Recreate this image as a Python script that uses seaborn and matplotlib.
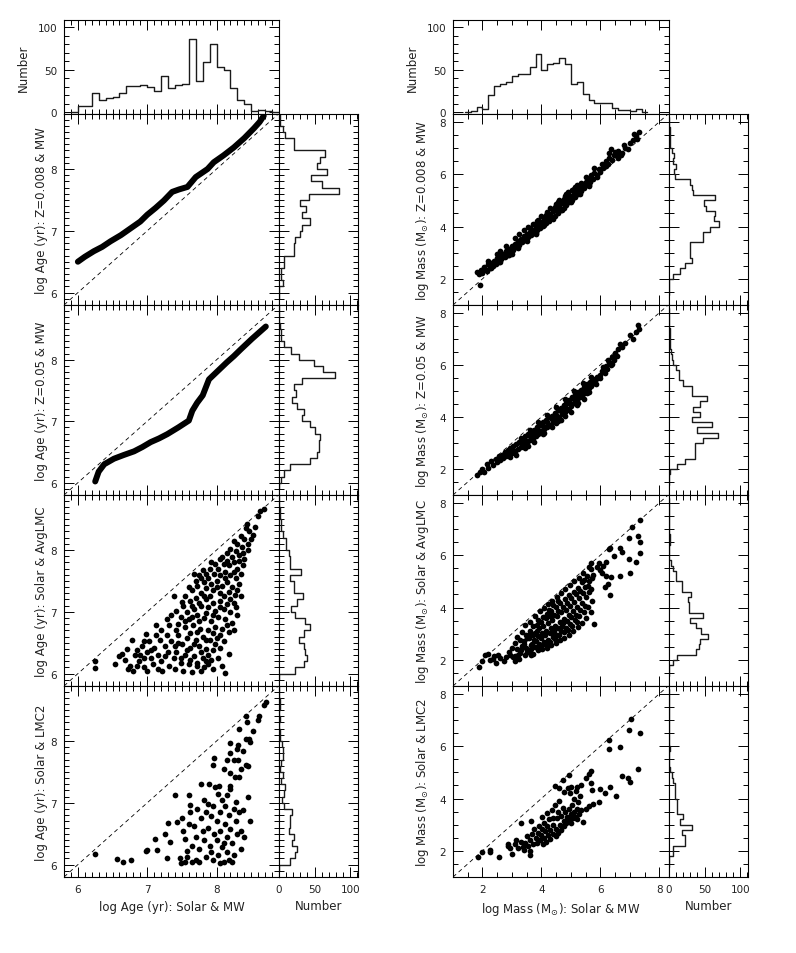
import numpy as np
import pandas as pd
import matplotlib
matplotlib.use('Agg')
import matplotlib.pyplot as plt
import seaborn as sns
from matplotlib.ticker import MultipleLocator

# ---------------- data ----------------
row_names = ['Z=0.008 & MW', 'Z=0.05 & MW', 'Solar & AvgLMC', 'Solar & LMC2']

# top histograms (counts per bin)
age_top_start, age_bin = 6.0, 0.1
age_top_counts = [7, 7, 23, 15, 17, 18, 23, 31, 31, 32, 30, 25, 42, 29, 32, 33,
                  86, 37, 59, 80, 53, 50, 28, 14, 10, 1, 3, 1]
mass_top_start, mass_bin = 1.6, 0.2
mass_top_counts = [1, 6, 4, 20, 31, 33, 35, 43, 45, 45, 53, 68, 50, 57, 58, 64,
                   57, 33, 36, 21, 14, 11, 11, 11, 5, 3, 3, 1, 4]

# side histograms, age (bins of 0.1 from 6.0 up to 8.8)
age_side_counts = [
    [0, 5, 3, 3, 7, 7, 21, 21, 23, 30, 32, 44, 32, 38, 29, 42, 85, 60, 45, 67,
     53, 57, 65, 21, 21, 9, 5, 2, 1],
    [3, 7, 15, 44, 53, 56, 56, 57, 51, 44, 32, 35, 25, 18, 24, 21, 32, 78, 62,
     49, 28, 17, 7, 3, 3, 1, 0, 0, 0],
    [23, 35, 39, 37, 35, 28, 35, 43, 36, 23, 17, 25, 34, 21, 21, 15, 31, 16, 15,
     14, 10, 10, 6, 3, 3, 1, 1, 0, 0],
    [16, 23, 25, 18, 21, 14, 16, 16, 18, 7, 4, 7, 9, 3, 5, 1, 3, 6, 5, 4, 2, 1,
     0, 2, 0, 2, 1, 0, 0],
]
# side histograms, mass (bins of 0.2 from 1.6 up to 7.8)
mass_side_counts = [
    [0, 0, 6, 16, 23, 32, 30, 30, 30, 48, 48, 58, 70, 63, 64, 52, 49, 64, 34,
     32, 30, 8, 7, 10, 5, 7, 4, 2, 1, 1, 1, 0],
    [0, 1, 11, 23, 37, 37, 37, 48, 69, 39, 60, 32, 43, 34, 43, 53, 33, 33, 20,
     14, 14, 10, 6, 4, 3, 1, 1, 1, 1, 0, 0, 0],
    [0, 6, 11, 38, 42, 43, 55, 45, 38, 30, 48, 28, 28, 26, 31, 18, 18, 10, 10,
     6, 3, 0, 0, 0, 1, 1, 0, 0, 0, 0, 0, 0],
    [0, 6, 6, 22, 22, 18, 32, 15, 20, 11, 11, 11, 9, 9, 9, 6, 4, 1, 0, 0, 0, 1,
     0, 0, 0, 0, 0, 0, 0, 0, 0, 0],
]

# age relations that form continuous tracks (rows 1 and 2)
age_z008_x = [6.00, 6.10, 6.23, 6.35, 6.47, 6.62, 6.76, 6.90, 7.00, 7.12, 7.24,
              7.36, 7.46, 7.58, 7.70, 7.87, 7.96, 8.10, 8.25, 8.40, 8.54, 8.62, 8.68]
age_z008_y = [6.50, 6.58, 6.67, 6.74, 6.83, 6.93, 7.04, 7.15, 7.26, 7.37, 7.49,
              7.63, 7.67, 7.71, 7.87, 8.00, 8.11, 8.22, 8.35, 8.50, 8.66, 8.76, 8.86]
age_z05_x = [6.25, 6.30, 6.38, 6.52, 6.66, 6.81, 6.93, 7.05, 7.17, 7.29, 7.45,
             7.60, 7.65, 7.72, 7.80, 7.89, 8.02, 8.15, 8.25, 8.35, 8.51, 8.60, 8.71]
age_z05_y = [6.02, 6.18, 6.30, 6.39, 6.45, 6.51, 6.58, 6.66, 6.72, 6.79, 6.90,
             7.01, 7.17, 7.30, 7.42, 7.68, 7.82, 7.96, 8.06, 8.17, 8.34, 8.43, 8.54]

age_avglmc = [
    (8.68, 8.67), (8.63, 8.63), (8.60, 8.55), (8.44, 8.42), (8.42, 8.35), (8.47, 8.30),
    (8.52, 8.25), (8.35, 8.22), (8.40, 8.18), (8.30, 8.10), (8.25, 8.14), (8.37, 8.05),
    (8.45, 8.10), (8.20, 8.02), (8.28, 7.98), (8.33, 7.92), (8.15, 7.95), (8.22, 7.88),
    (8.40, 7.85), (8.05, 7.85), (8.10, 7.78), (8.18, 7.75), (8.25, 7.80), (8.30, 7.70),
    (8.12, 7.65), (8.02, 7.70), (7.92, 7.80), (7.96, 7.62), (8.20, 7.60), (8.28, 7.55),
    (8.35, 7.62), (7.88, 7.55), (7.82, 7.48), (8.00, 7.50), (8.08, 7.42), (8.15, 7.48),
    (8.22, 7.40), (8.32, 7.45), (7.85, 7.38), (7.95, 7.35), (8.05, 7.30), (8.18, 7.32),
    (8.26, 7.28), (7.78, 7.30), (7.72, 7.42), (7.75, 7.60), (7.80, 7.68), (7.55, 7.25),
    (7.62, 7.18), (7.70, 7.22), (7.85, 7.20), (7.95, 7.15), (8.05, 7.18), (8.15, 7.12),
    (8.25, 7.15), (8.20, 7.00), (8.10, 7.05), (7.98, 7.02), (7.88, 7.08), (7.78, 7.10),
    (7.68, 7.05), (7.58, 7.00), (7.52, 7.10), (7.48, 6.92), (7.60, 6.88), (7.72, 6.95),
    (7.82, 6.90), (7.92, 6.85), (8.02, 6.92), (8.12, 6.88), (8.22, 6.82), (8.30, 6.95),
    (7.45, 6.80), (7.55, 6.75), (7.66, 6.78), (7.76, 6.72), (7.88, 6.70), (7.98, 6.75),
    (8.08, 6.72), (8.18, 6.68), (7.45, 6.62), (7.58, 6.58), (7.70, 6.55), (7.80, 6.60),
    (7.90, 6.55), (8.00, 6.58), (8.10, 6.52), (8.18, 6.32), (7.50, 6.48), (7.62, 6.42),
    (7.75, 6.45), (7.85, 6.40), (7.95, 6.38), (8.05, 6.42), (7.42, 6.35), (7.55, 6.30),
    (7.68, 6.28), (7.80, 6.25), (7.92, 6.22), (8.02, 6.25), (7.48, 6.18), (7.60, 6.15),
    (7.72, 6.12), (7.82, 6.10), (7.95, 6.08), (7.52, 6.05), (7.65, 6.02), (7.78, 6.05),
    (7.40, 6.08), (8.12, 6.01), (7.88, 6.15), (6.25, 6.21), (6.25, 6.09), (6.54, 6.16),
    (6.60, 6.28), (6.64, 6.32), (6.71, 6.40), (6.68, 6.22), (6.75, 6.12), (6.80, 6.05),
    (6.82, 6.30), (6.88, 6.20), (6.92, 6.45), (6.95, 6.10), (6.98, 6.64), (7.00, 6.35),
    (7.02, 6.52), (7.05, 6.25), (7.08, 6.15), (7.12, 6.78), (7.10, 6.42), (7.15, 6.30),
    (7.18, 6.55), (7.20, 6.20), (7.22, 6.05), (7.25, 6.45), (7.28, 6.62), (7.30, 6.35),
    (7.32, 6.12), (7.35, 6.52), (7.38, 6.25), (7.38, 7.26), (7.50, 7.16), (7.28, 6.88),
    (7.35, 6.95), (7.20, 6.70), (6.78, 6.55), (6.85, 6.38), (7.42, 6.70), (6.72, 6.08),
    (6.90, 6.30),
]
age_avglmc_more = [
    (7.65, 7.35), (7.70, 7.50), (7.78, 7.55), (7.85, 7.62), (7.90, 7.70), (7.98, 7.78),
    (8.08, 7.88), (8.15, 7.82), (8.12, 7.55), (8.25, 7.65), (8.32, 7.82), (8.38, 7.95),
    (8.05, 7.60), (7.92, 7.45), (7.82, 7.25), (7.75, 7.15), (7.65, 7.10), (7.90, 7.25),
    (8.00, 7.40), (8.10, 7.25), (8.20, 7.20), (8.30, 7.35), (8.35, 7.25), (8.28, 7.08),
    (8.05, 7.08), (7.95, 6.95), (7.85, 6.98), (7.75, 6.85), (7.65, 6.92), (7.55, 6.85),
    (7.62, 6.65), (7.72, 6.68), (7.85, 6.55), (7.95, 6.65), (8.05, 6.62), (8.15, 6.78),
    (8.25, 6.70), (7.68, 6.48), (7.78, 6.35), (7.88, 6.30), (7.98, 6.48), (7.58, 6.38),
    (7.48, 6.25), (7.62, 6.22), (7.72, 6.18), (7.85, 6.20), (8.08, 6.12), (7.40, 6.45),
    (7.32, 6.78), (7.42, 7.02), (7.60, 7.40), (7.68, 7.62), (8.45, 8.00), (8.50, 8.18),
    (8.55, 8.38), (8.38, 7.75), (7.12, 6.62), (7.05, 6.38), (6.95, 6.52), (6.85, 6.12),
    (7.15, 6.08), (7.25, 6.28), (6.95, 6.25), (7.45, 6.50), (7.00, 6.05),
]
age_lmc2 = [
    (8.71, 8.63), (8.68, 8.58), (8.61, 8.40), (8.60, 8.34), (8.43, 8.40), (8.44, 8.31),
    (8.33, 8.19), (8.52, 8.16), (8.47, 8.04), (8.42, 8.03), (8.48, 7.98), (8.20, 7.97),
    (8.31, 7.93), (8.29, 7.87), (8.20, 7.81), (8.38, 7.84), (8.15, 7.70), (8.25, 7.69),
    (8.31, 7.69), (8.43, 7.62), (8.45, 7.59), (8.32, 7.42), (8.27, 7.41), (8.20, 7.49),
    (7.96, 7.73), (7.95, 7.62), (7.89, 7.30), (8.03, 7.27), (8.20, 7.27), (8.20, 7.22),
    (8.45, 7.10), (8.48, 6.70), (7.77, 7.31), (8.10, 7.55), (8.35, 7.55), (7.40, 7.12),
    (7.60, 7.12), (7.62, 6.96), (7.60, 6.66), (7.43, 6.69), (7.50, 6.76), (7.30, 6.68),
    (7.25, 6.50), (7.33, 6.37), (7.11, 6.42), (6.98, 6.22), (7.00, 6.24), (7.14, 6.24),
    (7.29, 6.10), (7.47, 6.10), (7.48, 6.03), (6.25, 6.18), (6.57, 6.09), (6.65, 6.05),
    (6.77, 6.08), (7.55, 6.05), (7.58, 6.12), (7.65, 6.05), (7.70, 6.08), (7.75, 6.05),
    (7.72, 6.90), (7.78, 6.75), (7.80, 6.55), (7.82, 6.40), (7.85, 6.85), (7.88, 6.60),
    (7.90, 6.30), (7.92, 6.20), (7.95, 6.95), (7.97, 6.50), (8.00, 6.70), (8.00, 6.40),
    (8.02, 6.15), (8.05, 6.85), (8.05, 6.55), (8.08, 6.28), (8.10, 6.05), (8.12, 6.95),
    (8.12, 6.65), (8.15, 6.45), (8.15, 6.20), (8.18, 6.80), (8.18, 6.08), (8.20, 6.58),
    (8.22, 6.35), (8.25, 6.90), (8.25, 6.15), (8.28, 6.70), (8.30, 6.50), (8.32, 6.85),
    (8.35, 6.25), (8.38, 6.88), (8.40, 6.45), (7.75, 6.25), (7.70, 6.45), (7.68, 6.62),
    (7.65, 6.30), (7.85, 6.12), (7.95, 6.08), (8.05, 6.02), (7.62, 6.85), (7.88, 6.98),
    (8.08, 7.05), (8.28, 7.02), (7.92, 6.78), (8.10, 6.35), (7.55, 6.42), (7.52, 6.55),
    (7.58, 6.22), (8.22, 6.05), (8.35, 6.55), (8.02, 7.15), (8.15, 7.12), (7.82, 7.05),
    (7.98, 7.25),
]

mass_z008 = [
    (1.90, 1.75), (1.82, 2.25), (1.88, 2.20), (1.95, 2.32), (2.05, 2.45), (2.00, 2.22),
    (2.10, 2.38), (2.15, 2.30), (2.20, 2.55), (2.25, 2.42), (2.30, 2.60), (2.35, 2.50),
    (2.40, 2.70), (2.45, 2.58), (2.50, 2.78), (2.55, 2.65), (2.60, 2.90), (2.62, 2.75),
    (2.70, 2.95), (2.75, 2.85), (2.80, 3.05), (2.85, 2.92), (2.90, 3.15), (2.95, 3.02),
    (3.00, 3.25), (3.05, 3.12), (3.10, 3.35), (3.15, 3.20), (3.20, 3.45), (3.25, 3.30),
    (3.30, 3.52), (3.35, 3.40), (3.40, 3.62), (3.45, 3.50), (3.50, 3.72), (3.55, 3.58),
    (3.60, 3.80), (3.65, 3.68), (3.70, 3.88), (3.75, 3.75), (3.80, 3.98), (3.85, 3.85),
    (3.90, 4.08), (3.95, 3.95), (4.00, 4.18), (4.05, 4.02), (4.10, 4.28), (4.15, 4.12),
    (4.20, 4.38), (4.25, 4.22), (4.30, 4.48), (4.35, 4.32), (4.40, 4.58), (4.45, 4.42),
    (4.50, 4.68), (4.55, 4.52), (4.60, 4.78), (4.65, 4.62), (4.70, 4.88), (4.75, 4.72),
    (4.80, 4.98), (4.85, 4.82), (4.90, 5.08), (4.95, 4.92), (5.00, 5.18), (5.05, 5.02),
    (5.10, 5.28), (5.15, 5.12), (5.20, 5.40), (5.25, 5.25), (5.30, 5.52), (5.35, 5.36),
    (5.40, 5.62), (5.45, 5.48), (5.50, 5.72), (5.55, 5.58), (5.60, 5.82), (5.65, 5.70),
    (5.70, 5.95), (5.75, 5.80), (5.80, 6.05), (5.88, 5.95), (5.95, 6.20), (6.00, 6.10),
    (6.05, 6.40), (6.10, 6.25), (6.20, 6.50), (6.25, 6.38), (6.30, 6.62), (6.40, 6.55),
    (6.45, 6.75), (6.55, 6.68), (6.60, 6.90), (6.75, 6.80), (6.85, 7.00), (6.95, 6.95),
    (7.00, 7.20), (7.10, 7.30), (7.20, 7.45), (7.30, 7.62), (7.25, 7.35), (3.60, 3.95),
    (3.90, 4.25), (4.20, 4.55), (4.50, 4.85), (4.80, 5.15), (5.10, 5.45), (3.80, 3.70),
    (4.40, 4.30), (5.00, 4.95), (2.60, 3.05), (3.00, 2.95), (5.60, 5.60), (6.30, 6.80),
    (6.60, 6.60), (6.80, 7.10),
]
mass_z008_more = [
    (2.20, 2.70), (2.50, 2.95), (2.80, 3.25), (3.10, 3.55), (3.40, 3.85), (3.70, 4.10),
    (4.00, 4.40), (4.30, 4.70), (4.60, 5.00), (4.90, 5.30), (5.20, 5.60), (5.50, 5.90),
    (5.80, 6.25), (2.30, 2.40), (2.60, 2.65), (2.90, 2.90), (3.20, 3.18), (3.50, 3.45),
    (3.80, 3.75), (4.10, 4.05), (4.40, 4.35), (4.70, 4.62), (5.00, 4.98), (5.30, 5.25),
    (5.60, 5.55), (5.90, 5.90), (6.20, 6.30), (6.50, 6.85), (6.70, 6.75), (6.35, 6.95),
    (7.15, 7.55), (4.55, 4.95), (4.85, 5.25), (5.15, 5.50), (3.25, 3.70), (3.55, 3.98),
    (3.85, 4.22), (4.15, 4.45), (4.45, 4.75), (4.75, 5.05), (5.05, 5.38), (5.35, 5.68),
]
mass_z05 = [
    (1.80, 1.76), (1.90, 1.90), (2.00, 2.00), (2.05, 1.90), (2.15, 2.18), (2.20, 2.05),
    (2.30, 2.30), (2.35, 2.15), (2.45, 2.40), (2.50, 2.25), (2.55, 2.50), (2.60, 2.35),
    (2.65, 2.55), (2.70, 2.42), (2.75, 2.65), (2.80, 2.48), (2.85, 2.72), (2.90, 2.55),
    (2.95, 2.80), (3.00, 2.60), (3.05, 2.88), (3.10, 2.68), (3.15, 2.95), (3.20, 2.75),
    (3.25, 3.05), (3.30, 2.85), (3.35, 3.15), (3.40, 2.92), (3.45, 3.25), (3.50, 3.00),
    (3.55, 3.35), (3.60, 3.10), (3.65, 3.42), (3.70, 3.18), (3.75, 3.50), (3.80, 3.28),
    (3.85, 3.60), (3.90, 3.35), (3.95, 3.70), (4.00, 3.45), (4.05, 3.80), (4.10, 3.55),
    (4.15, 3.88), (4.20, 3.62), (4.25, 3.98), (4.30, 3.70), (4.35, 4.05), (4.40, 3.80),
    (4.45, 4.15), (4.50, 3.90), (4.55, 4.25), (4.60, 4.00), (4.65, 4.35), (4.70, 4.10),
    (4.75, 4.45), (4.80, 4.20), (4.85, 4.55), (4.90, 4.30), (4.95, 4.65), (5.00, 4.42),
    (5.05, 4.75), (5.10, 4.55), (5.15, 4.85), (5.20, 4.65), (5.25, 4.95), (5.30, 4.75),
    (5.35, 5.05), (5.40, 4.88), (5.45, 5.15), (5.50, 5.00), (5.55, 5.25), (5.60, 5.10),
    (5.65, 5.35), (5.70, 5.20), (5.75, 5.45), (5.80, 5.32), (5.90, 5.55), (6.00, 5.50),
    (6.05, 5.75), (6.15, 5.70), (6.20, 5.95), (6.23, 5.83), (6.30, 6.10), (6.35, 6.00),
    (6.40, 6.30), (6.45, 6.20), (6.50, 6.45), (6.55, 6.35), (6.60, 6.60), (6.68, 6.79),
    (6.75, 6.70), (6.85, 6.85), (7.02, 7.13), (7.10, 7.00), (7.27, 7.52), (7.30, 7.36),
    (7.20, 7.25), (3.00, 2.75), (3.30, 3.00), (3.60, 3.25), (3.90, 3.50), (4.20, 3.80),
    (4.50, 4.08), (4.80, 4.38), (5.10, 4.70), (5.40, 5.00), (5.70, 5.30), (2.70, 2.52),
    (3.45, 3.10), (3.75, 3.38), (4.05, 3.65), (4.35, 3.92), (4.65, 4.22), (4.95, 4.52),
    (5.25, 4.85), (5.55, 5.15), (5.85, 5.45), (6.00, 5.62), (4.50, 3.75), (5.60, 4.95),
    (5.20, 4.45),
]
mass_z05_more = [
    (3.15, 2.55), (3.45, 2.80), (3.75, 3.05), (4.05, 3.35), (4.35, 3.60), (4.65, 3.90),
    (4.95, 4.25), (5.25, 4.55), (5.55, 4.90), (5.85, 5.25), (3.30, 3.20), (3.60, 3.50),
    (3.90, 3.80), (4.20, 4.08), (4.50, 4.40), (4.80, 4.70), (5.10, 5.00), (5.40, 5.30),
    (5.70, 5.55), (6.10, 5.90), (6.25, 6.20), (6.40, 6.05), (2.80, 2.62), (2.95, 2.45),
    (3.40, 3.10), (3.55, 2.88), (4.10, 3.40), (4.55, 3.85), (4.80, 4.05), (5.00, 4.20),
    (5.45, 4.70),
]
mass_avglmc = [
    (7.36, 7.36), (7.07, 7.06), (7.28, 6.74), (6.96, 6.64), (7.33, 6.49), (7.33, 6.10),
    (7.22, 5.74), (6.96, 5.85), (7.00, 5.33), (6.73, 6.13), (6.68, 6.29), (6.34, 6.29),
    (6.45, 5.97), (6.28, 6.25), (5.80, 3.38), (6.32, 4.46), (6.68, 5.21), (6.00, 5.44),
    (6.20, 5.75), (6.10, 5.60), (5.95, 5.70), (5.90, 5.55), (6.05, 5.30), (6.20, 5.20),
    (6.35, 5.15), (5.70, 5.70), (5.60, 5.55), (5.75, 5.25), (6.15, 4.80), (6.25, 4.90),
    (1.88, 1.72), (1.99, 1.94), (2.10, 2.19), (2.27, 2.00), (2.40, 2.15), (2.52, 2.20),
    (2.61, 2.06), (2.72, 1.94), (3.12, 1.97), (2.20, 2.22), (2.35, 2.05), (2.45, 1.88),
    (2.80, 2.10), (2.90, 2.30), (3.00, 2.45), (3.05, 2.10), (2.95, 2.18), (3.20, 2.20),
    (3.25, 2.05), (3.12, 2.15), (3.18, 2.42), (3.10, 2.66), (3.16, 2.88), (3.28, 2.25),
    (3.33, 2.52), (3.27, 2.76), (3.35, 3.08), (3.31, 2.36), (3.44, 2.18), (3.48, 2.47),
    (3.42, 2.71), (3.47, 2.96), (3.45, 3.32), (3.58, 2.31), (3.63, 2.56), (3.57, 2.84),
    (3.62, 3.12), (3.60, 3.46), (3.66, 2.41), (3.73, 2.24), (3.78, 2.49), (3.74, 2.76),
    (3.79, 3.02), (3.72, 3.29), (3.77, 3.68), (3.88, 2.36), (3.93, 2.61), (3.87, 2.91),
    (3.92, 3.21), (3.89, 3.52), (3.94, 3.86), (4.03, 2.41), (4.08, 2.69), (4.02, 3.01),
    (4.07, 3.31), (4.04, 3.62), (4.09, 3.97), (4.01, 2.55), (4.18, 2.46), (4.23, 2.77),
    (4.17, 3.11), (4.22, 3.41), (4.19, 3.76), (4.24, 4.12), (4.33, 2.56), (4.38, 2.86),
    (4.32, 3.21), (4.37, 3.52), (4.34, 3.86), (4.36, 4.26), (4.39, 3.02), (4.48, 2.66),
    (4.53, 2.96), (4.47, 3.31), (4.52, 3.66), (4.49, 4.01), (4.54, 4.41), (4.63, 2.76),
    (4.68, 3.11), (4.62, 3.46), (4.67, 3.81), (4.64, 4.16), (4.66, 4.56), (4.69, 3.29),
    (4.78, 2.82), (4.83, 3.21), (4.77, 3.56), (4.82, 3.91), (4.79, 4.31), (4.81, 4.71),
    (4.93, 2.96), (4.98, 3.36), (4.92, 3.71), (4.97, 4.06), (4.94, 4.46), (4.96, 4.86),
    (5.08, 3.11), (5.13, 3.51), (5.07, 3.86), (5.12, 4.21), (5.09, 4.61), (5.11, 5.01),
    (5.23, 3.26), (5.28, 3.66), (5.22, 4.01), (5.27, 4.36), (5.24, 4.76), (5.26, 5.11),
    (5.38, 3.41), (5.43, 3.81), (5.37, 4.16), (5.42, 4.56), (5.39, 4.96), (5.41, 5.31),
    (5.53, 3.61), (5.58, 4.01), (5.52, 4.41), (5.57, 4.81), (5.54, 5.21), (5.68, 3.81),
    (5.73, 4.26), (5.67, 4.71), (5.72, 5.11), (5.69, 5.46),
]
mass_avglmc_more = [
    (3.40, 2.60), (3.52, 2.85), (3.55, 2.38), (3.68, 2.62), (3.70, 2.95), (3.82, 2.72),
    (3.84, 3.12), (3.98, 2.82), (4.00, 3.45), (4.12, 2.95), (4.14, 3.58), (4.28, 3.02),
    (4.28, 3.68), (4.42, 3.12), (4.42, 3.72), (4.58, 3.20), (4.58, 3.88), (4.72, 3.40),
    (4.72, 4.02), (4.88, 3.50), (4.88, 4.18), (5.02, 3.62), (5.02, 4.35), (5.18, 3.70),
    (5.18, 4.50), (5.32, 3.90), (5.32, 4.65), (5.48, 4.05), (5.48, 4.80), (3.95, 2.48),
    (4.15, 2.62), (4.30, 2.70), (4.45, 2.80), (4.60, 2.95), (4.75, 3.05), (4.90, 3.15),
    (5.05, 3.30), (5.20, 3.45), (3.50, 2.30), (3.65, 2.20), (4.40, 4.10), (4.55, 4.25),
    (4.25, 3.90), (3.85, 3.35), (3.60, 3.00), (5.62, 4.60), (5.45, 5.05), (5.60, 5.00),
]
mass_lmc2 = [
    (1.84, 1.78), (1.97, 1.96), (2.25, 2.03), (2.25, 1.94), (2.56, 1.78), (2.86, 2.19),
    (2.88, 2.25), (3.00, 1.87), (3.12, 2.26), (3.31, 3.06), (3.37, 2.13), (3.60, 2.00),
    (3.60, 1.85), (3.63, 3.15), (4.02, 3.28), (4.47, 4.46), (4.72, 4.69), (4.93, 4.88),
    (5.00, 4.44), (5.21, 4.44), (5.68, 4.59), (5.72, 4.34), (5.95, 3.85), (6.28, 6.23),
    (6.28, 5.91), (6.68, 5.97), (6.73, 4.85), (6.93, 4.79), (7.00, 4.63), (7.05, 7.04),
    (6.96, 6.62), (7.33, 6.49), (7.27, 5.14), (6.34, 4.44), (6.53, 4.10), (5.70, 5.05),
    (5.60, 4.95), (5.50, 4.80), (5.35, 4.50), (5.60, 3.70), (5.75, 3.80), (6.00, 4.35),
    (6.15, 4.20), (5.40, 3.10), (5.50, 3.60), (3.45, 2.30), (3.50, 2.55), (3.55, 2.20),
    (3.62, 2.40), (3.68, 2.65), (3.70, 2.25), (3.75, 2.85), (3.80, 2.50), (3.85, 2.30),
    (3.88, 2.70), (3.92, 2.95), (3.95, 2.40), (4.00, 2.60), (4.02, 2.85), (4.05, 2.25),
    (4.08, 3.05), (4.10, 2.50), (4.12, 2.75), (4.15, 2.35), (4.18, 2.95), (4.22, 2.60),
    (4.25, 3.20), (4.28, 2.45), (4.30, 2.80), (4.35, 3.55), (4.38, 2.65), (4.40, 3.00),
    (4.45, 3.75), (4.48, 2.55), (4.50, 2.85), (4.52, 3.25), (4.55, 2.70), (4.58, 3.50),
    (4.62, 3.00), (4.65, 2.80), (4.68, 3.35), (4.72, 3.65), (4.75, 2.95), (4.78, 3.15),
    (4.80, 3.50), (4.85, 3.05), (4.88, 3.30), (4.90, 4.40), (4.92, 3.60), (4.95, 3.20),
    (4.98, 4.20), (5.00, 3.40), (5.02, 3.05), (5.05, 3.75), (5.08, 3.25), (5.10, 4.00),
    (5.12, 3.50), (5.15, 3.30), (5.18, 4.30), (5.20, 3.60), (5.22, 3.20), (5.25, 3.85),
    (5.28, 3.40), (5.30, 4.10), (5.35, 3.55), (3.30, 2.35), (3.20, 2.10), (2.95, 2.10),
    (3.15, 2.40), (3.40, 2.05), (4.20, 3.45), (4.40, 3.25), (4.60, 4.40), (4.75, 4.25),
    (4.60, 3.90),
]

age_scatter = [None, None, age_avglmc + age_avglmc_more, age_lmc2]
age_tracks = [(age_z008_x, age_z008_y), (age_z05_x, age_z05_y), None, None]
mass_scatter = [mass_z008 + mass_z008_more, mass_z05 + mass_z05_more,
                mass_avglmc + mass_avglmc_more, mass_lmc2]

# ---------------- figure ----------------
sns.set_theme(style='white')
plt.rcParams['font.family'] = ['DejaVu Sans']
plt.rcParams['mathtext.fontset'] = 'dejavusans'
plt.rcParams['axes.edgecolor'] = 'black'

W, H = 796, 954
fig = plt.figure(figsize=(W / 100, H / 100), dpi=100)
fs = 8.5      # axis titles
tfs = 7.5     # tick numbers


def px_axes(x0, y0, x1, y1):
    return fig.add_axes([x0 / W, 1 - y1 / H, (x1 - x0) / W, (y1 - y0) / H])


def style(ax, xmaj, xmin, ymaj, ymin):
    ax.xaxis.set_major_locator(MultipleLocator(xmaj))
    ax.xaxis.set_minor_locator(MultipleLocator(xmin))
    ax.yaxis.set_major_locator(MultipleLocator(ymaj))
    ax.yaxis.set_minor_locator(MultipleLocator(ymin))
    ax.tick_params(which='both', direction='in', top=True, right=True,
                   bottom=True, left=True, labelsize=tfs, pad=5,
                   color='black', width=0.7, labelcolor='#222222')
    ax.tick_params(which='major', length=7)
    ax.tick_params(which='minor', length=3.5)
    for s in ax.spines.values():
        s.set_linewidth(0.8)
        s.set_color('black')
    ax.set_xlabel('')
    ax.set_ylabel('')


def hist(ax, start, width, counts, horizontal=False):
    counts = [0] + list(counts) + [0]
    edges = [round(start - width + width * k, 3) for k in range(len(counts) + 1)]
    df = pd.DataFrame({'v': [e + width / 2 for e in edges[:-1]], 'n': counts})
    if horizontal:
        sns.histplot(data=df, y='v', weights='n', bins=edges, element='step',
                     fill=False, color='#1a1a1a', linewidth=1.0, ax=ax)
    else:
        sns.histplot(data=df, x='v', weights='n', bins=edges, element='step',
                     fill=False, color='#1a1a1a', linewidth=1.0, ax=ax)


rows = [115, 306, 496, 687, 878]
age_lim = (5.8, 8.9)
mass_lim = (1.0, 8.33)
num_lim = (0, 111)
top_lim = (-2, 108.6)
label_kw = dict(fontsize=fs, color='#222222')

# top histograms
ax = px_axes(64, 20.7, 279, 115)
hist(ax, age_top_start, age_bin, age_top_counts)
style(ax, 1, 0.1, 50, 10)
ax.set_xlim(age_lim)
ax.set_ylim(top_lim)
ax.tick_params(labelbottom=False)
ax.set_ylabel('Number', **label_kw)
ax.yaxis.set_label_coords(-0.16, 0.5)

ax = px_axes(453, 20.7, 669, 115)
hist(ax, mass_top_start, mass_bin, mass_top_counts)
style(ax, 2, 0.5, 50, 10)
ax.set_xlim(mass_lim)
ax.set_ylim(top_lim)
ax.tick_params(labelbottom=False)
ax.set_ylabel('Number', **label_kw)
ax.yaxis.set_label_coords(-0.16, 0.5)

for i in range(4):
    y0, y1 = rows[i], rows[i + 1]
    last = i == 3

    # ---- age column ----
    ax = px_axes(64, y0, 279, y1)
    ax.axline((0, 0), slope=1, color='black', lw=0.6, ls=(0, (5, 4)), zorder=1)
    if age_tracks[i] is not None:
        tx, ty = age_tracks[i]
        sns.lineplot(x=tx, y=ty, sort=False, color='black', lw=4.3,
                     solid_capstyle='round', ax=ax, zorder=3)
    else:
        pts = np.array(age_scatter[i])
        sns.scatterplot(x=pts[:, 0], y=pts[:, 1], color='black', s=17,
                        linewidth=0, ax=ax, zorder=3)
    style(ax, 1, 0.1, 1, 0.1)
    ax.set_xlim(age_lim)
    ax.set_ylim(age_lim[0], 8.89)
    ax.set_ylabel('log Age (yr): ' + row_names[i], **label_kw)
    ax.yaxis.set_label_coords(-0.075, 0.5)
    if last:
        ax.set_xlabel('log Age (yr): Solar & MW', labelpad=4, **label_kw)
    else:
        ax.tick_params(labelbottom=False)

    ax = px_axes(279, y0, 358, y1)
    hist(ax, 6.0, age_bin, age_side_counts[i], horizontal=True)
    style(ax, 50, 10, 1, 0.1)
    ax.set_xlim(num_lim)
    ax.set_ylim(age_lim[0], 8.89)
    ax.tick_params(labelleft=False)
    if last:
        ax.set_xlabel('Number', labelpad=4, **label_kw)
    else:
        ax.tick_params(labelbottom=False)

    # ---- mass column ----
    ax = px_axes(453, y0, 669, y1)
    ax.axline((0, 0), slope=1, color='black', lw=0.6, ls=(0, (5, 4)), zorder=1)
    pts = np.array(mass_scatter[i])
    sns.scatterplot(x=pts[:, 0], y=pts[:, 1], color='black', s=17,
                    linewidth=0, ax=ax, zorder=3)
    style(ax, 2, 0.5, 2, 0.5)
    ax.set_xlim(mass_lim)
    ax.set_ylim(1.0, 8.3)
    ax.set_ylabel(r'log Mass (M$_{\odot}$): ' + row_names[i], **label_kw)
    ax.yaxis.set_label_coords(-0.1, 0.5)
    if last:
        ax.set_xlabel(r'log Mass (M$_{\odot}$): Solar & MW', labelpad=4, **label_kw)
    else:
        ax.tick_params(labelbottom=False)

    ax = px_axes(669, y0, 748, y1)
    hist(ax, 1.6, mass_bin, mass_side_counts[i], horizontal=True)
    style(ax, 50, 10, 2, 0.5)
    ax.set_xlim(num_lim)
    ax.set_ylim(1.0, 8.3)
    ax.tick_params(labelleft=False)
    if last:
        ax.set_xlabel('Number', labelpad=4, **label_kw)
    else:
        ax.tick_params(labelbottom=False)

fig.savefig('out.png', dpi=100, facecolor='white')
